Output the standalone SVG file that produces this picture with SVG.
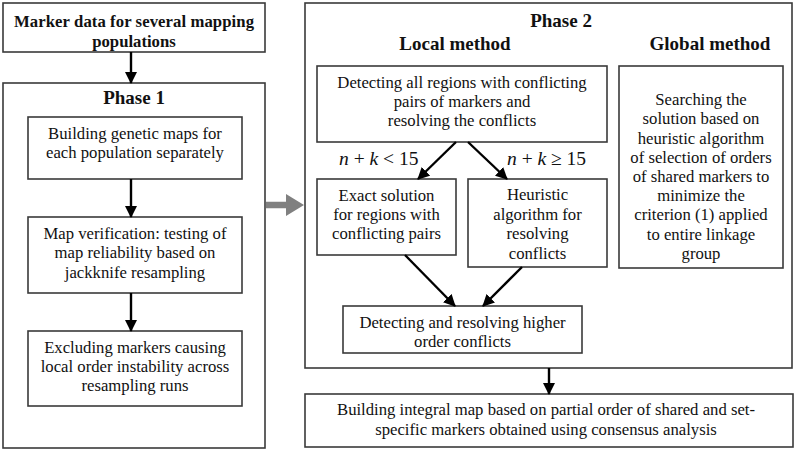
<svg xmlns="http://www.w3.org/2000/svg" width="797" height="451" viewBox="0 0 797 451">
<style>
.box{fill:#fff;stroke:#3a3a3a;stroke-width:1.6}
.t{font-family:"Liberation Serif","Times New Roman",serif;font-size:16.7px;fill:#111;text-anchor:middle}
.b{font-weight:bold}
.h{font-size:19px}
.lab{font-family:"Liberation Serif","Times New Roman",serif;font-size:19.5px;fill:#111}
.arr{stroke:#000;stroke-width:2.4;fill:none;marker-end:url(#ah)}
</style>
<defs>
<marker id="ah" markerUnits="userSpaceOnUse" markerWidth="12" markerHeight="12" refX="11" refY="6" orient="auto">
<path d="M0,0 L12,6 L0,12 Z" fill="#000"/>
</marker>
</defs>
<rect width="797" height="451" fill="#fff"/>

<g id="marker-data">
<rect class="box" x="3" y="3" width="262" height="49"/>
<text class="t b" x="134" y="26.5" font-size="16.5" textLength="240" lengthAdjust="spacing">Marker data for several mapping</text>
<text class="t b" x="134" y="46.5" font-size="16.5">populations</text>
</g>

<g id="phase1">
<rect class="box" x="3" y="83" width="262" height="365"/>
<text class="t b h" x="134" y="104">Phase 1</text>
</g>
<g id="build-maps">
<rect class="box" x="28" y="117" width="214" height="62"/>
<text class="t" x="135" y="139">Building genetic maps for</text>
<text class="t" x="135" y="158">each population separately</text>
</g>
<g id="verification">
<rect class="box" x="28" y="217" width="214" height="76"/>
<text class="t" x="135" y="239">Map verification: testing of</text>
<text class="t" x="135" y="258">map reliability based on</text>
<text class="t" x="135" y="278">jackknife resampling</text>
</g>
<g id="excluding">
<rect class="box" x="28" y="331" width="214" height="75"/>
<text class="t" x="135" y="353">Excluding markers causing</text>
<text class="t" x="135" y="371.5">local order instability across</text>
<text class="t" x="135" y="391">resampling runs</text>
</g>

<g id="phase2">
<rect class="box" x="305" y="3" width="487" height="365"/>
<text class="t b h" x="561" y="27">Phase 2</text>
<text class="t b h" x="455" y="50">Local method</text>
<text class="t b h" x="710" y="50">Global method</text>
</g>
<g id="detecting">
<rect class="box" x="317" y="66" width="290" height="76"/>
<text class="t" x="462" y="88">Detecting all regions with conflicting</text>
<text class="t" x="462" y="106.5">pairs of markers and</text>
<text class="t" x="462" y="125.5">resolving the conflicts</text>
</g>
<g id="exact">
<rect class="box" x="317" y="179" width="139" height="76"/>
<text class="t" x="386.5" y="201">Exact solution</text>
<text class="t" x="386.5" y="220">for regions with</text>
<text class="t" x="386.5" y="239">conflicting pairs</text>
</g>
<g id="heuristic">
<rect class="box" x="468" y="179" width="139" height="88"/>
<text class="t" x="537.5" y="200">Heuristic</text>
<text class="t" x="537.5" y="220">algorithm for</text>
<text class="t" x="537.5" y="239">resolving</text>
<text class="t" x="537.5" y="259">conflicts</text>
</g>
<g id="higher">
<rect class="box" x="343" y="306" width="239" height="47"/>
<text class="t" x="462.5" y="328">Detecting and resolving higher</text>
<text class="t" x="462.5" y="347">order conflicts</text>
</g>
<g id="global">
<rect class="box" x="619" y="66" width="164" height="202"/>
<text class="t" x="701" y="105">Searching the</text>
<text class="t" x="701" y="124">solution based on</text>
<text class="t" x="701" y="143.5">heuristic algorithm</text>
<text class="t" x="701" y="163">of selection of orders</text>
<text class="t" x="701" y="182">of shared markers to</text>
<text class="t" x="701" y="201">minimize the</text>
<text class="t" x="701" y="220">criterion (1) applied</text>
<text class="t" x="701" y="239.5">to entire linkage</text>
<text class="t" x="701" y="259">group</text>
</g>

<g id="integral">
<rect class="box" x="305" y="394" width="488" height="53"/>
<text class="t" x="546" y="415">Building integral map based on partial order of shared and set-</text>
<text class="t" x="546" y="435">specific markers obtained using consensus analysis</text>
</g>

<g id="labels">
<text class="lab" x="339" y="165"><tspan font-style="italic">n</tspan> + <tspan font-style="italic">k</tspan> &lt; 15</text>
<text class="lab" x="507" y="165"><tspan font-style="italic">n</tspan> + <tspan font-style="italic">k</tspan> ≥ 15</text>
</g>

<g id="connectors">
<line class="arr" x1="131" y1="52" x2="131" y2="83"/>
<line class="arr" x1="131" y1="179" x2="131" y2="217"/>
<line class="arr" x1="131" y1="293" x2="131" y2="331"/>
<line class="arr" x1="456" y1="142" x2="418" y2="179"/>
<line class="arr" x1="468" y1="142" x2="507" y2="179"/>
<line class="arr" x1="405" y1="255" x2="455" y2="306"/>
<line class="arr" x1="522" y1="267" x2="483" y2="306"/>
<line class="arr" x1="549" y1="368" x2="549" y2="394"/>
<polygon points="266,201.7 286,201.7 286,194 304,205 286,216 286,208.3 266,208.3" fill="#808080"/>
</g>
</svg>
